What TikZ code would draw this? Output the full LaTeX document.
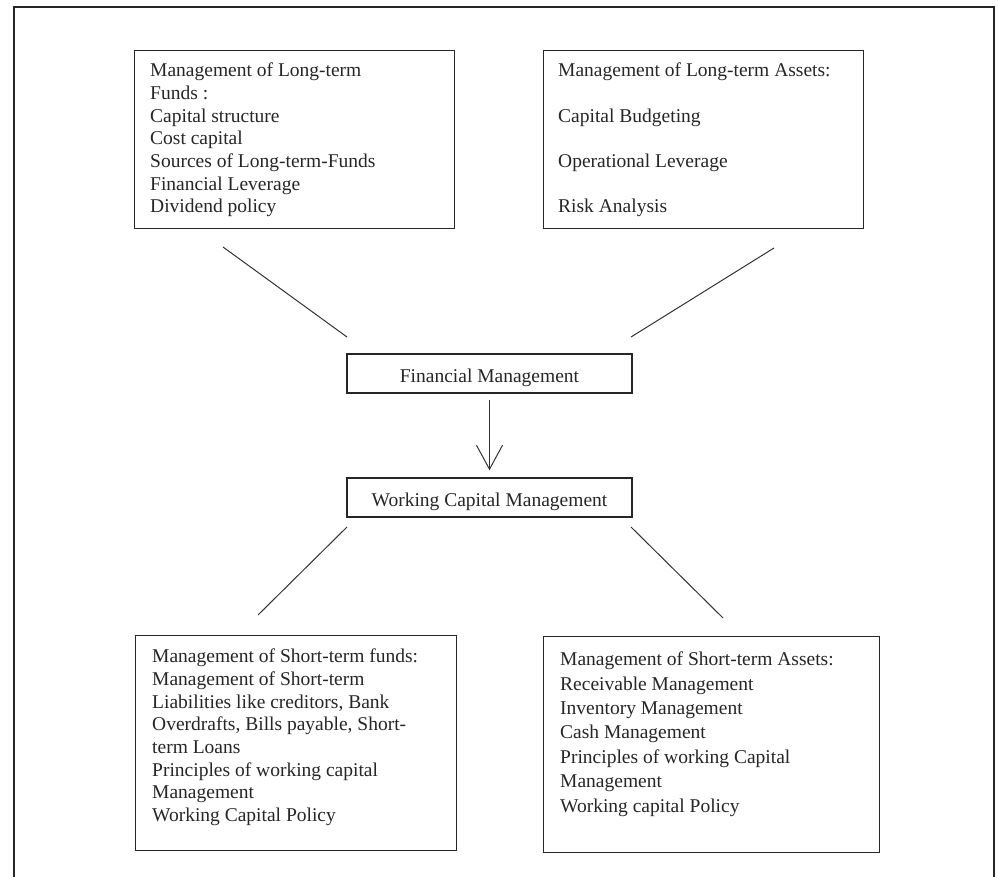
\documentclass[tikz,border=0pt]{standalone}
\usepackage{fontspec}
\setmainfont{Liberation Serif}
\usetikzlibrary{arrows.meta}
\begin{document}
\begin{tikzpicture}[x=1pt,y=-1pt,
  box/.style={draw=black!85, line width=1.4pt, rectangle, inner sep=0pt},
  txt/.style={inner sep=0pt, anchor=north west, align=left, text=black!85},
  midbox/.style={box, minimum width=285pt, minimum height=39pt, text height=17pt, text depth=0pt,
    font=\fontsize{19.5}{22.7}\selectfont, text=black!85},
  link/.style={draw=black!80, line width=1pt},
]
\useasboundingbox (0,0) rectangle (998,877);
\draw[line width=2pt, black!85] (14,877) -- (14,7) -- (994,7) -- (994,877);

% top boxes
\node[box, anchor=north west, minimum width=320pt, minimum height=178pt] (b1) at (134,50) {};
\node[txt, font=\fontsize{19.5}{22.7}\selectfont] (t1) at (150,62.7)
  {Management of Long-term\\Funds :\\Capital structure\\Cost capital\\Sources of Long-term-Funds\\Financial Leverage\\Dividend policy};
\node[box, anchor=north west, minimum width=320pt, minimum height=178pt] (b2) at (543,50) {};
\node[txt, font=\fontsize{19.5}{45.4}\selectfont] (t2) at (558,62.7)
  {Management of Long-term Assets:\\Capital Budgeting\\Operational Leverage\\Risk Analysis};

% middle boxes
\node[midbox] (fm) at (489.5,373.5) {Financial Management};
\node[midbox] (wcm) at (489.5,497.5) {Working Capital Management};

% bottom boxes
\node[box, anchor=north west, minimum width=321pt, minimum height=215pt] (b3) at (135,635) {};
\node[txt, font=\fontsize{19.5}{22.7}\selectfont] (t3) at (152,648.7)
  {Management of Short-term funds:\\Management of Short-term\\Liabilities like creditors, Bank\\Overdrafts, Bills payable, Short-\\term Loans\\Principles of working capital\\Management\\Working Capital Policy};
\node[box, anchor=north west, minimum width=336pt, minimum height=216pt] (b4) at (543,636) {};
\node[txt, font=\fontsize{19.5}{24.4}\selectfont] (t4) at (560,651.7)
  {Management of Short-term Assets:\\Receivable Management\\Inventory Management\\Cash Management\\Principles of working Capital\\Management\\Working capital Policy};

% connector end points
\coordinate (l1a) at (223,247);
\coordinate (l1b) at (347,337);
\coordinate (l2a) at (774,248);
\coordinate (l2b) at (631,337);
\coordinate (l3a) at (347,527);
\coordinate (l3b) at (258,615);
\coordinate (l4a) at (631,527);
\coordinate (l4b) at (723,618);

\draw[link] (l1a) -- (l1b);
\draw[link] (l2a) -- (l2b);
\draw[link] (l3a) -- (l3b);
\draw[link] (l4a) -- (l4b);

\draw[link, -{Straight Barb[length=24pt,width=26pt,line width=1pt]}, shorten <=6pt, shorten >=7pt] (fm.south) -- (wcm.north);
\end{tikzpicture}
\end{document}
